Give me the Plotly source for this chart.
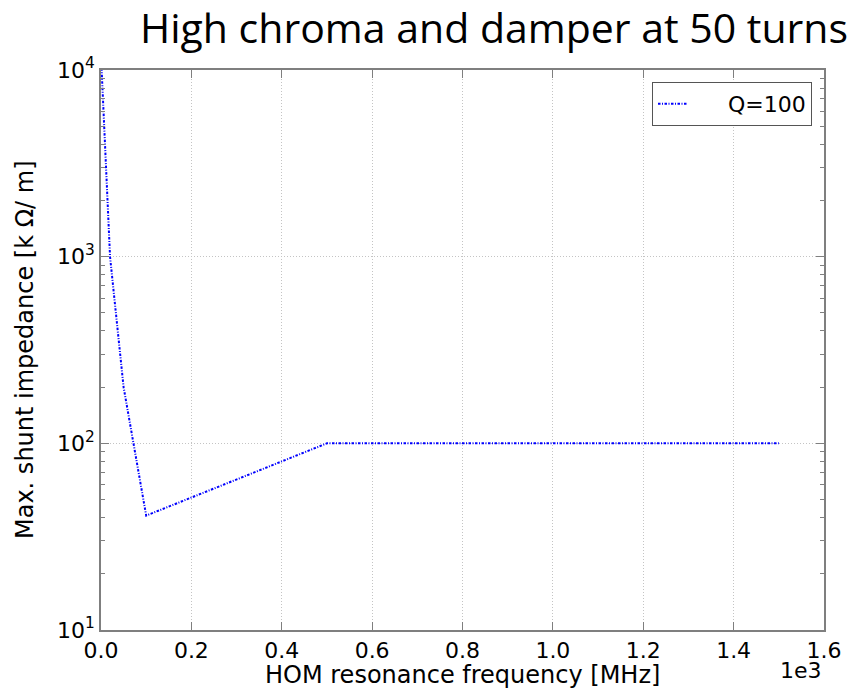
import plotly.graph_objects as go

# HOM resonance frequency [MHz] and the max. allowed shunt impedance [kOhm/m]
freq_mhz = [0, 20, 50, 100, 500, 1500]
shunt_impedance = [12000, 1000, 200, 41, 100, 100]
series_name = "Q=100"

x_tick_vals = [0, 200, 400, 600, 800, 1000, 1200, 1400, 1600]
x_tick_text = ["0.0", "0.2", "0.4", "0.6", "0.8", "1.0", "1.2", "1.4", "1.6"]
y_tick_vals = [10, 100, 1000, 10000]
y_tick_text = ["10<sup>1</sup>", "10<sup>2</sup>", "10<sup>3</sup>", "10<sup>4</sup>"]

W, H = 859, 689
L, R, T, B = 101, 35, 70, 59
plot_w = W - L - R
plot_h = H - T - B

tick_font = dict(family="DejaVu Sans", size=22, color="#000000")
label_font = dict(family="DejaVu Sans", size=24, color="#000000")
frame = "#7f7f7f"
grid = "#c4c4c4"

fig = go.Figure()
fig.add_trace(go.Scatter(
    x=freq_mhz, y=shunt_impedance, mode="lines",
    name="\u00a0\u00a0\u00a0\u00a0\u00a0" + series_name,
    line=dict(color="#0000ff", width=2, dash="2.5px,1.5px,1px,1.5px"),
))

fig.update_layout(
    width=W, height=H,
    margin=dict(l=L, r=R, t=T, b=B, autoexpand=False),
    paper_bgcolor="white", plot_bgcolor="white",
    title=dict(text="High chroma and damper at 50 turns",
               font=dict(family="Open Sans", size=41, color="#000000"),
               x=494 / W, xanchor="center", xref="container",
               y=1 - 29 / H, yanchor="middle", yref="container"),
    showlegend=True,
    legend=dict(x=(812 - L) / plot_w, xanchor="right",
                y=(H - B - 82) / plot_h, yanchor="top",
                bgcolor="white", bordercolor="#555555", borderwidth=1,
                font=dict(family="DejaVu Sans", size=22, color="#000000"),
                itemwidth=30),
)

fig.update_xaxes(
    range=[0, 1600], tickvals=x_tick_vals, ticktext=x_tick_text,
    tickfont=tick_font, ticks="inside", ticklen=8, tickcolor=frame,
    showline=True, linecolor=frame, linewidth=1.5, mirror="allticks",
    showgrid=True, gridcolor=grid, griddash="1px,2px", gridwidth=1,
    zeroline=False,
)
fig.update_yaxes(
    type="log", range=[1, 4], tickvals=y_tick_vals, ticktext=y_tick_text,
    tickfont=tick_font, ticks="inside", ticklen=8, tickcolor=frame,
    showline=True, linecolor=frame, linewidth=1.5, mirror="allticks",
    showgrid=True, gridcolor=grid, griddash="1px,2px", gridwidth=1,
    zeroline=False,
    minor=dict(ticks="inside", ticklen=4, tickcolor=frame, dtick="D1", showgrid=False),
)

# axis titles and the x-axis scale factor
fig.add_annotation(text="HOM resonance frequency [MHz]", xref="paper", yref="paper",
                   x=0.5, y=0, yshift=-45, xanchor="center", yanchor="middle",
                   showarrow=False, font=label_font)
fig.add_annotation(text="Max. shunt impedance [k Ω/ m]", xref="paper", yref="paper",
                   x=0, xshift=-76, y=0.5, textangle=-90, xanchor="center", yanchor="middle",
                   showarrow=False, font=label_font)
fig.add_annotation(text="1e3", xref="paper", yref="paper",
                   x=1, y=0, yshift=-40, xanchor="right", yanchor="middle",
                   showarrow=False, font=tick_font)

fig.write_html("out.html")
